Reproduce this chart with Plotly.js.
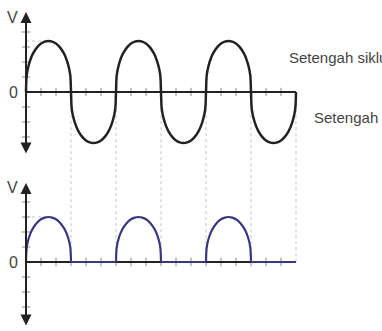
<!DOCTYPE html>
<html>
<head>
<meta charset="utf-8">
<script src="https://cdn.plot.ly/plotly-3.0.1.min.js"></script>
<style>
  html, body { margin: 0; padding: 0; background: #fff; }
  #chart { width: 382px; height: 331px; }
</style>
</head>
<body>
<div id="chart"></div>
<script>
// one drawn lobe: degrees into the half cycle and fraction of the peak
// (steep sides, round arch on top)
var lobeOffset = [0, 3, 10, 20, 30, 45, 60, 75, 90, 105, 120, 135, 150, 160, 170, 177, 180];
var lobeShape  = [0, 0.33, 0.51, 0.665, 0.77, 0.88, 0.95, 0.987, 1, 0.987, 0.95, 0.88, 0.77, 0.665, 0.51, 0.33, 0];

// input AC wave (top): six half cycles, alternately positive and negative
var inputStart = [0, 180, 360, 540, 720, 900];
var inputSign  = [1, -1, 1, -1, 1, -1];
var inputPeak  = 3.4;

// half wave output (bottom): only the positive half cycles pass
var outputStart = [0, 360, 720];
var outputPeak  = 3;
var offAngle = [180, 360, null, 540, 720, null, 900, 1080];
var offVolt  = [0, 0, null, 0, 0, null, 0, 0];

var axisEnd = [0, 1080];
var angleTicks = [60,120,180,240,300,360,420,480,540,600,660,720,780,840,900,960,1020];
var voltTicks = [-3, -2, -1, 1, 2, 3, 4];
var crossings = [180, 360, 540, 720, 900, 1080];
var labelPos = 'Setengah siklus positif';
var labelNeg = 'Setengah siklus negatif';

var ink = '#222', tickCol = '#8a8a8a', guide = '#c4c4c4', blue = '#38387e';
var font = 'Liberation Sans, Arial, sans-serif';

// build the point lists the traces need from the lobe readings
var inX = [], inY = [];
inputStart.forEach(function(s, i) {
  lobeOffset.forEach(function(o, j) {
    if (i > 0 && j === 0) return;
    inX.push(s + o);
    inY.push(inputSign[i] * inputPeak * lobeShape[j]);
  });
});
var outX = [], outY = [];
outputStart.forEach(function(s, i) {
  if (i > 0) { outX.push(null); outY.push(null); }
  lobeOffset.forEach(function(o, j) {
    outX.push(s + o);
    outY.push(outputPeak * lobeShape[j]);
  });
});

function tickTraces(yax) {
  return [
    { x: angleTicks, y: angleTicks.map(() => 0), xaxis: 'x', yaxis: yax, mode: 'markers',
      marker: { symbol: 'line-ns', size: 6, line: { color: tickCol, width: 1 } } },
    { x: voltTicks.map(() => 0), y: voltTicks, xaxis: 'x', yaxis: yax, mode: 'markers',
      marker: { symbol: 'line-ew', size: 6, line: { color: tickCol, width: 1 } } }
  ];
}

var traces = [].concat(tickTraces('y'), tickTraces('y2'), [
  // peak guides
  { x: [0, 90], y: [inputPeak, inputPeak], xaxis: 'x', yaxis: 'y', mode: 'lines',
    line: { color: guide, width: 1, dash: 'dot' } },
  { x: [0, 90], y: [outputPeak, outputPeak], xaxis: 'x', yaxis: 'y2', mode: 'lines',
    line: { color: guide, width: 1, dash: 'dot' } },
  // time axes
  { x: axisEnd, y: [0, 0], xaxis: 'x', yaxis: 'y', mode: 'lines', line: { color: ink, width: 2 } },
  { x: axisEnd, y: [0, 0], xaxis: 'x', yaxis: 'y2', mode: 'lines', line: { color: ink, width: 2 } },
  // signals
  { x: inX, y: inY, xaxis: 'x', yaxis: 'y', mode: 'lines',
    line: { color: ink, width: 2.5, shape: 'spline', smoothing: 1 } },
  { x: offAngle, y: offVolt, xaxis: 'x', yaxis: 'y2', mode: 'lines',
    line: { color: blue, width: 2.2 } },
  { x: outX, y: outY, xaxis: 'x', yaxis: 'y2', mode: 'lines',
    line: { color: blue, width: 2.2, shape: 'spline', smoothing: 1 } }
]);

// dotted markers at every zero crossing, running from the top wave down to the output
var shapes = crossings.map(a => ({
  type: 'line', xref: 'x', yref: 'paper', x0: a, x1: a, y0: 0.208, y1: 0.713,
  layer: 'below', line: { color: guide, width: 1, dash: 'dot' }
}));

function vAxis(yr, top, bottom) {
  return { x: 0, y: top, ax: 0, ay: bottom, xref: 'x', yref: yr, axref: 'x', ayref: yr,
    text: '', showarrow: true, arrowside: 'end+start', arrowhead: 2, arrowsize: 1.1,
    arrowwidth: 2, arrowcolor: ink, standoff: 0, startstandoff: 0 };
}
function lbl(txt, x, y, yr, size, anchor) {
  return { x: x, y: y, xref: 'x', yref: yr, text: txt, showarrow: false,
    xanchor: anchor || 'center', yanchor: 'middle', font: { family: font, size: size, color: '#444' } };
}

var annotations = [
  vAxis('y', 5.33, -4.2),
  vAxis('y2', 5.27, -4.33),
  lbl('V', -56, 5, 'y', 16),
  lbl('0', -52, 0, 'y', 16),
  lbl('V', -56, 5, 'y2', 16),
  lbl('0', -52, 0, 'y2', 16),
  lbl(labelPos, 1044, 2.27, 'y', 15, 'left'),
  lbl(labelNeg, 1144, -1.67, 'y', 15, 'left')
];

var hidden = { visible: false, showgrid: false, zeroline: false, fixedrange: true };
var layout = {
  width: 382, height: 331,
  margin: { l: 0, r: 0, t: 0, b: 0, pad: 0 },
  paper_bgcolor: '#fff', plot_bgcolor: '#fff',
  showlegend: false,
  xaxis: Object.assign({ range: [-104, 1424] }, hidden),
  yaxis: Object.assign({ domain: [0.5, 1], range: [-4.9, 6.133], anchor: 'x' }, hidden),
  yaxis2: Object.assign({ domain: [0, 0.5], range: [-4.6, 6.433], anchor: 'x' }, hidden),
  shapes: shapes,
  annotations: annotations
};

Plotly.newPlot('chart', traces, layout, { displayModeBar: false, staticPlot: true });
</script>
</body>
</html>
